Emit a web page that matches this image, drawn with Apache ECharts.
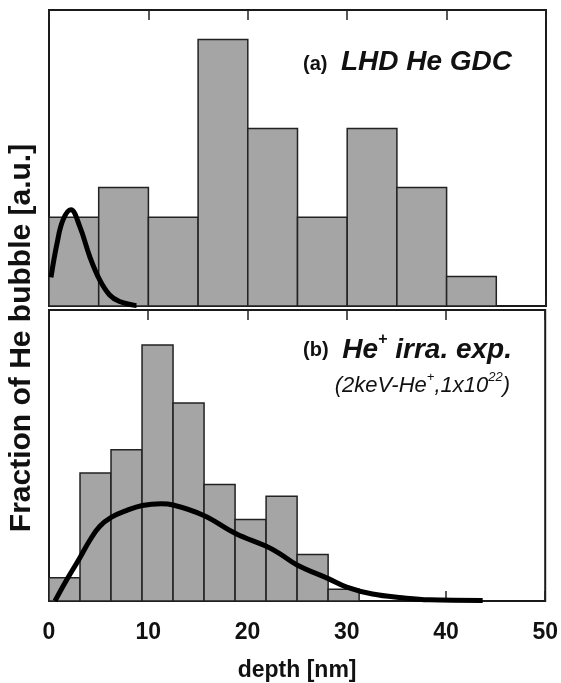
<!DOCTYPE html>
<html>
<head>
<meta charset="utf-8">
<script src="https://cdn.jsdelivr.net/npm/echarts@6/dist/echarts.min.js"></script>
<style>
	html, body { margin: 0; padding: 0; background: #fff; }
	#main { width: 561px; height: 683px; }
</style>
</head>
<body>
<div id="main"></div>
<script>
// (a) LHD He GDC: histogram, bin width 5 nm
const binStartA = [0, 5, 10, 15, 20, 25, 30, 35, 40];
const countsA = [3, 4, 3, 9, 6, 3, 6, 4, 1];
const binWidthA = 5;
// (a) simulated profile
const curveA = [
	[0.2, 0.97], [0.8, 2.1], [1.4, 2.9], [2.2, 3.25], [3.1, 2.68], [4.1, 1.67],
	[5.1, 0.88], [6.1, 0.37], [7.1, 0.15], [8.5, 0.03], [8.8, 0.02],
];
// (b) He+ irradiation: histogram, bin width 3.125 nm
const binStartB = [0, 3.125, 6.25, 9.375, 12.5, 15.625, 18.75, 21.875, 25, 28.125];
const countsB = [2, 11, 13, 22, 17, 10, 7, 9, 4, 1];
const binWidthB = 3.125;
// (b) simulated profile
const curveB = [
	[0.6, 0], [1.7, 1.7], [3.1, 3.7], [4.1, 5.2], [5.1, 6.4], [6.3, 7.2], [7.8, 7.77], [9.4, 8.2], [11.3, 8.35],
	[12.5, 8.25], [15.6, 7.35], [18.8, 5.8], [21.9, 4.7], [23.2, 4.1], [25, 3.1],
	[28.2, 1.9], [30, 1.2], [32.6, 0.6], [35.6, 0.28], [38.3, 0.1], [43.7, 0.05],
];
const xTicks = [0, 10, 20, 30, 40, 50];

const font = 'Liberation Sans, Arial, sans-serif';

// 直方图矩形
function renderBin(params, api) {
	let p0 = api.coord([api.value(0), api.value(2)]);
	let p1 = api.coord([api.value(1), 0]);
	return {
		type: 'rect',
		shape: { x: p0[0], y: p0[1], width: p1[0] - p0[0], height: p1[1] - p0[1] },
		style: { fill: '#a5a5a5', stroke: '#222', lineWidth: 1.5 },
	};
}

function bins(starts, counts, w) {
	return starts.map((s, i) => [s, s + w, counts[i]]);
}

function xAxisOf(gridIndex, position, showLabel) {
	return {
		type: 'value',
		gridIndex: gridIndex,
		position: position,
		min: xTicks[0],
		max: xTicks[xTicks.length - 1],
		interval: 10,
		axisLine: { show: false },
		axisTick: { show: true, inside: true, length: 10, lineStyle: { color: '#222', width: 1.5 } },
		axisLabel: {
			show: showLabel,
			margin: 20,
			color: '#111',
			fontSize: 23,
			fontWeight: 'bold',
			fontFamily: font,
		},
		splitLine: { show: false },
		name: showLabel ? 'depth [nm]' : '',
		nameLocation: 'middle',
		nameGap: 58,
		nameTextStyle: { color: '#111', fontSize: 23, fontWeight: 'bold', fontFamily: font },
	};
}

function yAxisOf(gridIndex, max) {
	return {
		type: 'value',
		gridIndex: gridIndex,
		min: 0,
		max: max,
		axisLine: { show: false },
		axisTick: { show: false },
		axisLabel: { show: false },
		splitLine: { show: false },
	};
}

let chart = echarts.init(document.getElementById('main'));
let option = {
	animation: false,
	backgroundColor: '#fff',
	grid: [
		{ left: 49, right: 15, top: 10, height: 296, show: true, borderColor: '#1a1a1a', borderWidth: 2, backgroundColor: '#fff' },
		{ left: 49, right: 15, top: 310, height: 297, show: true, borderColor: '#1a1a1a', borderWidth: 2, backgroundColor: '#fff' },
	],
	xAxis: [
		xAxisOf(0, 'bottom', false),
		xAxisOf(0, 'top', false),
		xAxisOf(1, 'bottom', true),
		xAxisOf(1, 'top', false),
	],
	yAxis: [yAxisOf(0, 10), yAxisOf(1, 25)],
	series: [
		{
			type: 'custom',
			xAxisIndex: 0,
			yAxisIndex: 0,
			renderItem: renderBin,
			encode: { x: [0, 1], y: 2 },
			data: bins(binStartA, countsA, binWidthA),
			z: 2,
		},
		{
			type: 'line',
			xAxisIndex: 0,
			yAxisIndex: 0,
			smooth: 0.4,
			showSymbol: false,
			lineStyle: { color: '#000', width: 5 },
			data: curveA,
			z: 3,
		},
		{
			type: 'custom',
			xAxisIndex: 2,
			yAxisIndex: 1,
			renderItem: renderBin,
			encode: { x: [0, 1], y: 2 },
			data: bins(binStartB, countsB, binWidthB),
			z: 2,
		},
		{
			type: 'line',
			xAxisIndex: 2,
			yAxisIndex: 1,
			smooth: 0.4,
			showSymbol: false,
			lineStyle: { color: '#000', width: 5 },
			data: curveB,
			z: 3,
		},
	],
	graphic: [
		{
			type: 'text', x: 22, y: 338, rotation: Math.PI / 2,
			style: { text: 'Fraction of He bubble [a.u.]', font: 'bold 30px ' + font, fill: '#111', align: 'center', verticalAlign: 'middle' },
		},
		{
			type: 'text', x: 303, y: 64,
			style: { text: '(a)', font: 'bold 20px ' + font, fill: '#111', align: 'left', verticalAlign: 'middle' },
		},
		{
			type: 'text', x: 512, y: 62,
			style: { text: 'LHD He GDC', font: 'italic bold 28px ' + font, fill: '#111', align: 'right', verticalAlign: 'middle' },
		},
		{
			type: 'text', x: 303, y: 350,
			style: { text: '(b)', font: 'bold 20px ' + font, fill: '#111', align: 'left', verticalAlign: 'middle' },
		},
		{
			type: 'text', x: 512, y: 348,
			style: {
				text: '{m|He}{s|+}{m| irra. exp.}',
				align: 'right', verticalAlign: 'middle', fill: '#111',
				rich: {
					m: { font: 'italic bold 28px ' + font, fill: '#111', verticalAlign: 'bottom', lineHeight: 32 },
					s: { font: 'bold 16px ' + font, fill: '#111', verticalAlign: 'top', lineHeight: 16 },
				},
			},
		},
		{
			type: 'text', x: 510, y: 384,
			style: {
				text: '{m|(2keV-He}{s|+}{m|,1x10}{s|22}{m|)}',
				align: 'right', verticalAlign: 'middle', fill: '#111',
				rich: {
					m: { font: 'italic 22px ' + font, fill: '#111', verticalAlign: 'bottom', lineHeight: 26 },
					s: { font: 'italic 13px ' + font, fill: '#111', verticalAlign: 'top', lineHeight: 13 },
				},
			},
		},
	],
};
chart.setOption(option);
</script>
</body>
</html>
